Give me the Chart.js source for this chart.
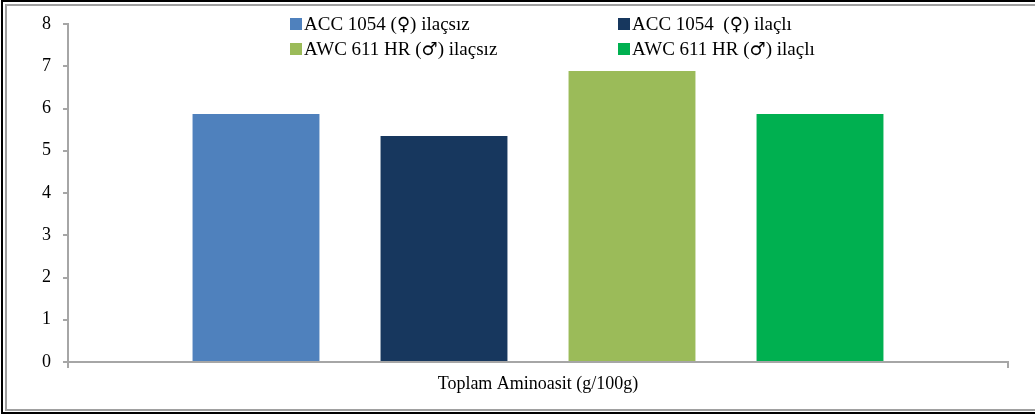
<!DOCTYPE html>
<html>
<head>
<meta charset="utf-8">
<script src="https://cdn.jsdelivr.net/npm/chart.js@4"></script>
<style>
  html, body { margin: 0; padding: 0; background: #fff; }
  canvas { display: block; }
</style>
</head>
<body>
<canvas id="aminoChart" width="1035" height="416"></canvas>
<script>
// single category, one bar per line / treatment
const categories = ['Toplam Aminoasit (g/100g)'];
const seriesNames = [
    'ACC 1054 (\u2640) ilaçsız',
    'ACC 1054  (\u2640) ilaçlı',
    'AWC 611 HR (\u2642) ilaçsız',
    'AWC 611 HR (\u2642) ilaçlı'
];
const seriesValues = [[5.87], [5.35], [6.89], [5.87]];
const seriesColors = ['#4F81BD', '#17375E', '#9BBB59', '#00B050'];
const yTicks = [0, 1, 2, 3, 4, 5, 6, 7, 8];

const serif = "'Liberation Serif', 'DejaVu Serif', serif";
const axisGray = '#a6a6a6';

// white background + double frame around the whole chart
const framePlugin = {
    id: 'frame',
    beforeDraw: (chart) => {
        const { ctx, width, height } = chart;
        ctx.save();
        ctx.fillStyle = '#fff';
        ctx.fillRect(0, 0, width, height);
        ctx.strokeStyle = '#000';
        ctx.lineWidth = 2;
        ctx.strokeRect(2, 1, width + 10, height - 4);
        ctx.strokeStyle = '#a0a0a0';
        ctx.lineWidth = 2;
        ctx.strokeRect(6, 5, width + 10, height - 11);
        ctx.restore();
    }
};

// write a label piece by piece so the ♀/♂ signs get a font that has them at full size
function drawLabel(ctx, text, x, y) {
    const parts = text.split(/([\u2640\u2642])/);
    parts.forEach(p => {
        if (!p) return;
        ctx.font = /[\u2640\u2642]/.test(p) ? '18px "DejaVu Sans"' : '19px ' + serif;
        ctx.fillText(p, x, y);
        x += ctx.measureText(p).width;
    });
}

// two-column legend sitting over the top of the plot
const legendPlugin = {
    id: 'gridLegend',
    afterDraw: (chart) => {
        const { ctx } = chart;
        const cols = [290, 618];
        const rows = [24, 49];
        ctx.save();
        ctx.textBaseline = 'middle';
        ctx.textAlign = 'left';
        chart.data.datasets.forEach((ds, i) => {
            const x = cols[i % 2];
            const y = rows[Math.floor(i / 2)];
            ctx.fillStyle = ds.backgroundColor;
            ctx.fillRect(x, y - 6, 12, 12);
            ctx.fillStyle = '#000';
            drawLabel(ctx, ds.label, x + 14, y + 1);
        });
        ctx.restore();
    }
};

const datasets = seriesNames.map((name, i) => ({
    label: name,
    data: seriesValues[i],
    backgroundColor: seriesColors[i],
    borderWidth: 0,
    categoryPercentage: 0.8,
    barPercentage: 0.675
}));

new Chart(document.getElementById('aminoChart').getContext('2d'), {
    type: 'bar',
    data: { labels: categories, datasets: datasets },
    options: {
        responsive: false,
        animation: false,
        layout: { padding: { left: 0, top: 24, right: 27, bottom: 0 } },
        plugins: {
            legend: { display: false },
            tooltip: { enabled: false }
        },
        scales: {
            x: {
                grid: { drawOnChartArea: false, tickLength: 6, color: axisGray, lineWidth: 2 },
                border: { color: axisGray, width: 2 },
                ticks: { color: '#000', font: { family: serif, size: 18 }, padding: 5 },
                afterFit: (scale) => { scale.height = 54; }
            },
            y: {
                min: 0,
                max: 8,
                afterBuildTicks: (scale) => { scale.ticks = yTicks.map(v => ({ value: v })); },
                grid: { drawOnChartArea: false, tickLength: 5, color: axisGray, lineWidth: 2 },
                border: { color: axisGray, width: 2 },
                ticks: { color: '#000', font: { family: serif, size: 18 }, padding: 12 },
                afterFit: (scale) => { scale.width = 68; }
            }
        }
    },
    plugins: [framePlugin, legendPlugin]
});
</script>
</body>
</html>
